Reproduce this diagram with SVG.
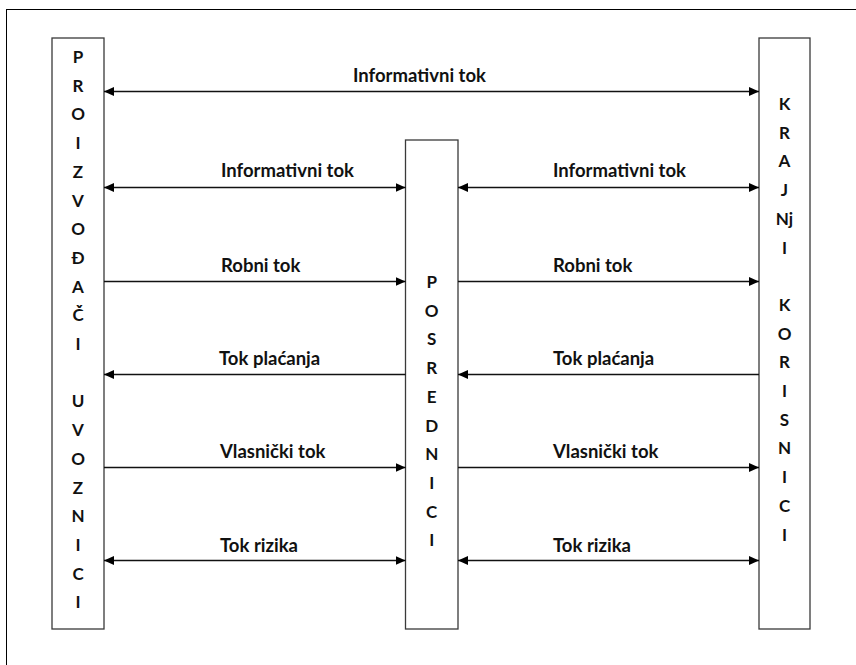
<svg xmlns="http://www.w3.org/2000/svg" width="856" height="665" viewBox="0 0 856 665">
<defs>
<marker id="ah" viewBox="0 0 10 10" refX="10" refY="5" markerWidth="10" markerHeight="10" markerUnits="userSpaceOnUse" orient="auto-start-reverse">
<path d="M0,0.5 L10,5 L0,9.5 Z" fill="#000"/>
</marker>
<style>
.box{fill:#fff;stroke:#3a3a3a;stroke-width:1.3}
.col{font-family:Lato,"Liberation Sans",sans-serif;font-weight:bold;font-size:17px;fill:#111;text-anchor:middle}
.lbl{font-family:Lato,"Liberation Sans",sans-serif;font-weight:bold;font-size:18.5px;fill:#111}
.ln{stroke:#111;stroke-width:1.6;fill:none}
</style>
</defs>
<rect width="856" height="665" fill="#fff"/>
<rect x="6.5" y="9.5" width="900" height="700" fill="none" stroke="#000" stroke-width="1"/>

<g id="proizvodjaci">
<rect class="box" x="52" y="38" width="52" height="591"/>
<text class="col" x="78" y="63">P</text>
<text class="col" x="78" y="91.7">R</text>
<text class="col" x="78" y="120.4">O</text>
<text class="col" x="78" y="149">I</text>
<text class="col" x="78" y="177.8">Z</text>
<text class="col" x="78" y="206.5">V</text>
<text class="col" x="78" y="235.2">O</text>
<text class="col" x="78" y="263.9">Đ</text>
<text class="col" x="78" y="292.6">A</text>
<text class="col" x="78" y="321.3">Č</text>
<text class="col" x="78" y="350">I</text>
<text class="col" x="78" y="407.4">U</text>
<text class="col" x="78" y="436.1">V</text>
<text class="col" x="78" y="464.8">O</text>
<text class="col" x="78" y="493.5">Z</text>
<text class="col" x="78" y="522.2">N</text>
<text class="col" x="78" y="550.9">I</text>
<text class="col" x="78" y="579.6">C</text>
<text class="col" x="78" y="608.3">I</text>
</g>

<g id="posrednici">
<rect class="box" x="405.5" y="140" width="52.5" height="489"/>
<text class="col" x="431.7" y="288">P</text>
<text class="col" x="431.7" y="316.7">O</text>
<text class="col" x="431.7" y="345.4">S</text>
<text class="col" x="431.7" y="374.1">R</text>
<text class="col" x="431.7" y="402.8">E</text>
<text class="col" x="431.7" y="431.5">D</text>
<text class="col" x="431.7" y="460.2">N</text>
<text class="col" x="431.7" y="488.9">I</text>
<text class="col" x="431.7" y="517.6">C</text>
<text class="col" x="431.7" y="546.3">I</text>
</g>

<g id="krajnji-korisnici">
<rect class="box" x="759" y="38" width="51" height="591"/>
<text class="col" x="784.5" y="110">K</text>
<text class="col" x="784.5" y="138.7">R</text>
<text class="col" x="784.5" y="167.4">A</text>
<text class="col" x="784.5" y="196.1">J</text>
<text class="col" x="784.5" y="224.8">Nj</text>
<text class="col" x="784.5" y="253.5">I</text>
<text class="col" x="784.5" y="310.9">K</text>
<text class="col" x="784.5" y="339.6">O</text>
<text class="col" x="784.5" y="368.3">R</text>
<text class="col" x="784.5" y="397">I</text>
<text class="col" x="784.5" y="425.7">S</text>
<text class="col" x="784.5" y="454.4">N</text>
<text class="col" x="784.5" y="483.1">I</text>
<text class="col" x="784.5" y="511.8">C</text>
<text class="col" x="784.5" y="540.5">I</text>
</g>

<g id="connectors">
<line class="ln" x1="104" y1="91.5" x2="759" y2="91.5" marker-start="url(#ah)" marker-end="url(#ah)"/>
<line class="ln" x1="104" y1="187.5" x2="405.5" y2="187.5" marker-start="url(#ah)" marker-end="url(#ah)"/>
<line class="ln" x1="458" y1="187.5" x2="759" y2="187.5" marker-start="url(#ah)" marker-end="url(#ah)"/>
<line class="ln" x1="104" y1="281.5" x2="405.5" y2="281.5" marker-end="url(#ah)"/>
<line class="ln" x1="458" y1="281.5" x2="759" y2="281.5" marker-end="url(#ah)"/>
<line class="ln" x1="405.5" y1="374.5" x2="104" y2="374.5" marker-end="url(#ah)"/>
<line class="ln" x1="759" y1="374.5" x2="458" y2="374.5" marker-end="url(#ah)"/>
<line class="ln" x1="104" y1="467.5" x2="405.5" y2="467.5" marker-end="url(#ah)"/>
<line class="ln" x1="458" y1="467.5" x2="759" y2="467.5" marker-end="url(#ah)"/>
<line class="ln" x1="104" y1="560.5" x2="405.5" y2="560.5" marker-start="url(#ah)" marker-end="url(#ah)"/>
<line class="ln" x1="458" y1="560.5" x2="759" y2="560.5" marker-start="url(#ah)" marker-end="url(#ah)"/>
<text class="lbl" x="353" y="82">Informativni tok</text>
<text class="lbl" x="221" y="177">Informativni tok</text>
<text class="lbl" x="553" y="177">Informativni tok</text>
<text class="lbl" x="221" y="271.5">Robni tok</text>
<text class="lbl" x="553" y="271.5">Robni tok</text>
<text class="lbl" x="219" y="365">Tok plaćanja</text>
<text class="lbl" x="553" y="365">Tok plaćanja</text>
<text class="lbl" x="220" y="458">Vlasnički tok</text>
<text class="lbl" x="553" y="458">Vlasnički tok</text>
<text class="lbl" x="220" y="551.5">Tok rizika</text>
<text class="lbl" x="553" y="551.5">Tok rizika</text>
</g>
</svg>
